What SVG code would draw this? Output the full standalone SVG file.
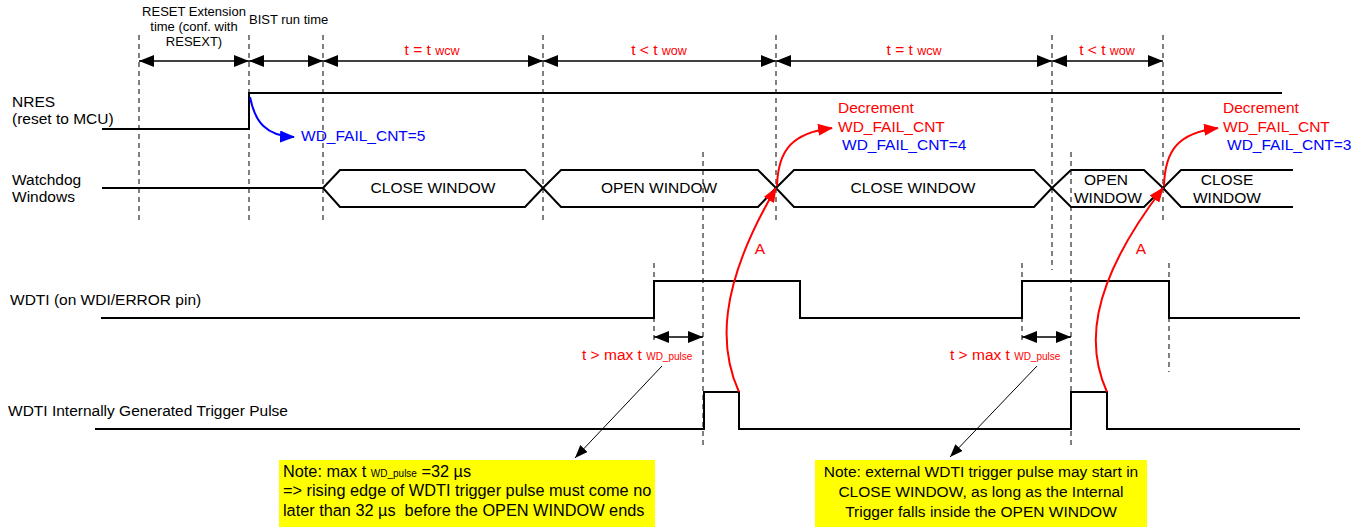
<svg xmlns="http://www.w3.org/2000/svg" width="1366" height="527" viewBox="0 0 1366 527">
<defs>
<style>
text{font-family:"Liberation Sans",Arial,sans-serif;font-size:15.5px;fill:#000}
text.sm{font-size:13px}
text.n1{font-size:16.3px}
.red{fill:#ff0000}
.blue{fill:#0000ff}
.dash{stroke:#000;stroke-width:1;stroke-dasharray:5,4;fill:none}
.sig{stroke:#000;stroke-width:2;fill:none}
.dim{stroke:#000;stroke-width:1.3;fill:none;marker-start:url(#ab);marker-end:url(#ae)}
.note{fill:#ffff00}
</style>
<marker id="ae" markerUnits="userSpaceOnUse" markerWidth="16" markerHeight="12" refX="15" refY="6" orient="auto"><path d="M0,0 L15,6 L0,12 Z" fill="#000"/></marker>
<marker id="ab" markerUnits="userSpaceOnUse" markerWidth="16" markerHeight="12" refX="0" refY="6" orient="auto"><path d="M15,0 L0,6 L15,12 Z" fill="#000"/></marker>
<marker id="ar" markerUnits="userSpaceOnUse" markerWidth="16" markerHeight="12" refX="14" refY="6" orient="auto"><path d="M0,0 L15,6 L0,12 Z" fill="#ff0000"/></marker>
<marker id="abl" markerUnits="userSpaceOnUse" markerWidth="16" markerHeight="12" refX="14" refY="6" orient="auto"><path d="M0,0 L15,6 L0,12 Z" fill="#0000ff"/></marker>
<marker id="ak" markerUnits="userSpaceOnUse" markerWidth="14" markerHeight="10" refX="13" refY="5" orient="auto"><path d="M0,0 L13,5 L0,10 Z" fill="#000"/></marker>
</defs>
<rect width="1366" height="527" fill="#fff"/>

<g id="gridlines">
<line class="dash" x1="139" y1="35" x2="139" y2="222"/>
<line class="dash" x1="249" y1="35" x2="249" y2="222"/>
<line class="dash" x1="323" y1="35" x2="323" y2="222"/>
<line class="dash" x1="543" y1="35" x2="543" y2="222"/>
<line class="dash" x1="776" y1="35" x2="776" y2="222"/>
<line class="dash" x1="1052" y1="35" x2="1052" y2="270"/>
<line class="dash" x1="1163" y1="35" x2="1163" y2="222"/>
<line class="dash" x1="703" y1="152" x2="703" y2="445"/>
<line class="dash" x1="1071" y1="152" x2="1071" y2="445"/>
<line class="dash" x1="654" y1="263" x2="654" y2="340"/>
<line class="dash" x1="1022" y1="263" x2="1022" y2="340"/>
<line class="dash" x1="1169" y1="263" x2="1169" y2="372"/>
</g>

<g id="timing-labels">
<text class="sm" x="194" y="16" text-anchor="middle">RESET Extension</text>
<text class="sm" x="194" y="31" text-anchor="middle">time (conf. with</text>
<text class="sm" x="194" y="46" text-anchor="middle">RESEXT)</text>
<text class="sm" x="249" y="24">BIST run time</text>
<text class="red" x="432" y="55" text-anchor="middle">t = t <tspan font-size="12.5">wcw</tspan></text>
<text class="red" x="659" y="55" text-anchor="middle">t &lt; t <tspan font-size="12.5">wow</tspan></text>
<text class="red" x="914" y="55" text-anchor="middle">t = t <tspan font-size="12.5">wcw</tspan></text>
<text class="red" x="1107" y="55" text-anchor="middle">t &lt; t <tspan font-size="12.5">wow</tspan></text>
</g>

<g id="nres">
<text x="12" y="107">NRES</text>
<text x="12" y="124">(reset to MCU)</text>
<path class="sig" d="M102,129 L249,129 L249,93 L1282,93"/>
<text class="blue" x="301" y="141">WD_FAIL_CNT=5</text>
</g>

<g id="watchdog-windows">
<text x="12" y="185">Watchdog</text>
<text x="12" y="202">Windows</text>
<path class="sig" d="M102,188 L323,188"/>
<path class="sig" d="M323,188 L340,170 L525,170 L543,188 L525,207 L340,207 Z"/>
<path class="sig" d="M543,188 L561,170 L758,170 L776,188 L758,207 L561,207 Z"/>
<path class="sig" d="M776,188 L794,170 L1034,170 L1052,188 L1034,207 L794,207 Z"/>
<path class="sig" d="M1052,188 L1071,170 L1144,170 L1163,188 L1144,207 L1071,207 Z"/>
<path class="sig" d="M1293,170 L1181,170 L1163,188 L1181,207 L1293,207"/>
<text x="433" y="193" text-anchor="middle">CLOSE WINDOW</text>
<text x="659" y="193" text-anchor="middle">OPEN WINDOW</text>
<text x="913" y="193" text-anchor="middle">CLOSE WINDOW</text>
<text x="1106" y="185" text-anchor="middle">OPEN</text>
<text x="1108" y="203" text-anchor="middle">WINDOW</text>
<text x="1227" y="185" text-anchor="middle">CLOSE</text>
<text x="1227" y="203" text-anchor="middle">WINDOW</text>
</g>

<g id="decrement-1">
<text class="red" x="838" y="113">Decrement</text>
<text class="red" x="838" y="132">WD_FAIL_CNT</text>
<text class="blue" x="842" y="150">WD_FAIL_CNT=4</text>
</g>
<g id="decrement-2">
<text class="red" x="1223" y="113">Decrement</text>
<text class="red" x="1223" y="132">WD_FAIL_CNT</text>
<text class="blue" x="1227" y="150">WD_FAIL_CNT=3</text>
</g>

<g id="wdti">
<text x="10" y="305">WDTI (on WDI/ERROR pin)</text>
<path class="sig" d="M101,318 L654,318 L654,281 L800,281 L800,318 L1022,318 L1022,281 L1169,281 L1169,318 L1300,318"/>
<text class="red" x="582" y="360">t &gt; max t <tspan font-size="10">WD_pulse</tspan></text>
<text class="red" x="950" y="360">t &gt; max t <tspan font-size="10">WD_pulse</tspan></text>
</g>

<g id="internal-trigger">
<text x="8" y="416">WDTI Internally Generated Trigger Pulse</text>
<path class="sig" d="M95,429 L704,429 L704,392 L739,392 L739,429 L1071,429 L1071,392 L1107,392 L1107,429 L1300,429"/>
</g>

<g id="note-1">
<rect class="note" x="279" y="460" width="376" height="67"/>
<text class="n1" x="283" y="477">Note: max t <tspan font-size="10">WD_pulse</tspan> =32 µs</text>
<text class="n1" x="283" y="496">=&gt; rising edge of WDTI trigger pulse must come no</text>
<text class="n1" x="283" y="516" xml:space="preserve" style="white-space:pre">later than 32 µs  before the OPEN WINDOW ends</text>
</g>

<g id="note-2">
<rect class="note" x="815" y="460" width="332" height="67"/>
<text x="981" y="477" text-anchor="middle">Note: external WDTI trigger pulse may start in</text>
<text x="981" y="497" text-anchor="middle">CLOSE WINDOW, as long as the Internal</text>
<text x="981" y="517" text-anchor="middle">Trigger falls inside the OPEN WINDOW</text>
</g>

<g id="connectors">
<line class="dim" x1="139" y1="61" x2="249" y2="61"/>
<line class="dim" x1="249" y1="61" x2="323" y2="61"/>
<line class="dim" x1="323" y1="61" x2="543" y2="61"/>
<line class="dim" x1="543" y1="61" x2="776" y2="61"/>
<line class="dim" x1="776" y1="61" x2="1052" y2="61"/>
<line class="dim" x1="1052" y1="61" x2="1163" y2="61"/>
<line class="dim" x1="654" y1="337" x2="703" y2="337"/>
<line class="dim" x1="1022" y1="337" x2="1071" y2="337"/>
<path d="M250,97 C255,122 266,136 294,137" stroke="#0000ff" stroke-width="2" fill="none" marker-end="url(#abl)"/>
<path d="M739,392 C720,350 716,290 776,188" stroke="#ff0000" stroke-width="2" fill="none" marker-end="url(#ar)"/>
<path d="M777,186 C778,150 792,133 832,128" stroke="#ff0000" stroke-width="2" fill="none" marker-end="url(#ar)"/>
<path d="M1107,392 C1088,350 1085,290 1163,188" stroke="#ff0000" stroke-width="2" fill="none" marker-end="url(#ar)"/>
<path d="M1164,186 C1165,150 1178,133 1218,128" stroke="#ff0000" stroke-width="2" fill="none" marker-end="url(#ar)"/>
<text class="red" x="760" y="254" text-anchor="middle">A</text>
<text class="red" x="1141" y="254" text-anchor="middle">A</text>
<line x1="662" y1="366" x2="575" y2="458" stroke="#000" stroke-width="1" marker-end="url(#ak)"/>
<line x1="1037" y1="366" x2="950" y2="457" stroke="#000" stroke-width="1" marker-end="url(#ak)"/>
</g>
</svg>
